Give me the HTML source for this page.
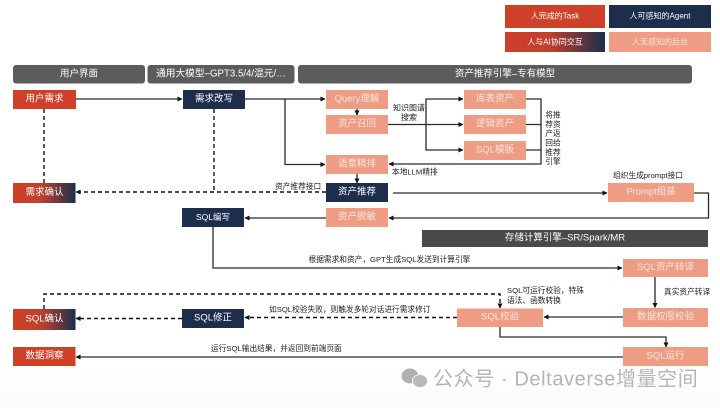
<!DOCTYPE html>
<html><head><meta charset="utf-8"><style>
html,body{margin:0;padding:0;background:#fff}
svg{display:block;filter:blur(.35px)}
text{font-family:"Liberation Sans","Noto Sans CJK SC",sans-serif}
.b{font-size:9.5px;fill:#fff;text-anchor:middle;dominant-baseline:central}
.s{fill:#fbe6dc}
.l{font-size:7.7px;fill:#222;dominant-baseline:central}
.c{text-anchor:middle}
.a{stroke:#2a2a2a;stroke-width:1.3;fill:none}
.d{stroke:#111;stroke-width:1.4;fill:none;stroke-dasharray:4 3}
</style></head><body>
<svg width="720" height="408" viewBox="0 0 720 408" xmlns="http://www.w3.org/2000/svg">
<defs>
<linearGradient id="g"><stop offset="0" stop-color="#cf4028"/><stop offset=".45" stop-color="#c0402c"/><stop offset="1" stop-color="#1c2e4c"/></linearGradient>
<linearGradient id="bg" x1="0" y1="0" x2="0" y2="1"><stop offset=".9" stop-color="#fff"/><stop offset="1" stop-color="#fbfbfb"/></linearGradient>
<marker id="m" markerWidth="6" markerHeight="6" refX="4.5" refY="2.5" orient="auto" markerUnits="userSpaceOnUse"><path d="M0 0L5 2.5L0 5z" fill="#111"/></marker>
</defs>
<rect width="720" height="408" fill="url(#bg)"/>
<!-- legend -->
<rect x="505" y="5" width="100" height="23" fill="#cf4028"/>
<rect x="609" y="5" width="102" height="23" fill="#1c2e4c"/>
<rect x="505" y="32" width="100" height="20" fill="url(#g)"/>
<rect x="609" y="32" width="102" height="20" fill="#ee9c84"/>
<text class="b" style="font-size:8px" x="555" y="16">人完成的Task</text>
<text class="b" style="font-size:8px" x="660" y="16">人可感知的Agent</text>
<text class="b" style="font-size:8px" x="555" y="42">人与AI协同交互</text>
<text class="b s" style="font-size:8px" x="660" y="42">人无感知的后台</text>
<!-- headers -->
<rect x="13" y="65" width="132" height="18.5" rx="3" fill="#5c5c5c"/>
<rect x="147.5" y="65" width="147" height="18.5" rx="3" fill="#5c5c5c"/>
<rect x="298" y="65" width="394" height="18.5" rx="3" fill="#5c5c5c"/>
<text class="b" x="79" y="74">用户界面</text>
<text class="b" style="font-size:9.7px" x="221" y="74">通用大模型–GPT3.5/4/混元/…</text>
<text class="b" x="505" y="74">资产推荐引擎–专有模型</text>
<rect x="422" y="230" width="286" height="17" fill="#4a4a4a"/>
<text class="b" x="565" y="238">存储计算引擎–SR/Spark/MR</text>
<!-- connectors -->
<path class="a" d="M76 99H182" marker-end="url(#m)"/>
<path class="a" d="M245 99H325" marker-end="url(#m)"/>
<path class="a" d="M285 99V164.500H325" marker-end="url(#m)"/>
<path class="a" d="M357 109V115" marker-end="url(#m)"/>
<path class="a" d="M357 174V183" marker-end="url(#m)"/>
<path class="a" d="M388 124.500H463" marker-end="url(#m)"/>
<path class="a" d="M426 124.500V99H463" marker-end="url(#m)"/>
<path class="a" d="M426 124.500V150H463" marker-end="url(#m)"/>
<path class="a" d="M526 99H541V164H389" marker-end="url(#m)"/>
<path class="a" d="M526 124.500H541M526 150H541"/>
<path class="a" d="M393 193H607" marker-end="url(#m)"/>
<path class="a" d="M694 193H708.500V218H389" marker-end="url(#m)"/>
<path class="a" d="M326 218H245" marker-end="url(#m)"/>
<path class="a" d="M213 227V268H622" marker-end="url(#m)"/>
<path class="a" d="M655 277V307.500" marker-end="url(#m)"/>
<path class="a" d="M623 317H544" marker-end="url(#m)"/>
<path class="a" d="M500 327V337H666V347" marker-end="url(#m)"/>
<path class="a" d="M623 357H76" marker-end="url(#m)"/>
<path class="d" d="M44 109V183"/>
<path class="d" d="M214 109V192"/>
<path class="d" d="M326 192H76" marker-end="url(#m)"/>
<path class="d" d="M44 309V294H500V308" marker-end="url(#m)"/>
<path class="d" d="M457 317.500H245" marker-end="url(#m)"/>
<path class="d" d="M182 318.500H76" marker-end="url(#m)"/>
<!-- nodes -->
<rect x="13" y="90" width="63" height="19" fill="#cf4028"/><text class="b" x="44.500" y="99">用户需求</text>
<rect x="183" y="90" width="62" height="19" fill="#1c2e4c"/><text class="b" x="214" y="99">需求改写</text>
<rect x="326" y="90" width="62" height="19" fill="#ee9c84"/><text class="b s" x="357" y="99">Query理解</text>
<rect x="326" y="115" width="62" height="19" fill="#ee9c84"/><text class="b s" x="357" y="124">资产召回</text>
<rect x="326" y="155" width="62" height="19" fill="#ee9c84"/><text class="b s" x="357" y="164">语意精排</text>
<rect x="326" y="183" width="62" height="19" fill="#1c2e4c"/><text class="b" x="357" y="192">资产推荐</text>
<rect x="326" y="208" width="62" height="19" fill="#ee9c84"/><text class="b s" x="357" y="217">资产脱敏</text>
<rect x="464" y="90" width="62" height="19" fill="#ee9c84"/><text class="b s" x="495" y="99">库表资产</text>
<rect x="464" y="115" width="62" height="19" fill="#ee9c84"/><text class="b s" x="495" y="124">逻辑资产</text>
<rect x="464" y="141" width="62" height="19" fill="#ee9c84"/><text class="b s" x="495" y="150">SQL模版</text>
<rect x="608" y="183" width="86" height="19" fill="#ee9c84"/><text class="b s" x="651" y="192">Prompt组装</text>
<rect x="13" y="183" width="62.500" height="20" fill="url(#g)"/><text class="b" x="44.500" y="192.500">需求确认</text>
<rect x="182" y="208" width="62" height="19" fill="#1c2e4c"/><text class="b" style="font-size:8.500px" x="213" y="217">SQL编写</text>
<rect x="623" y="259" width="85" height="18" fill="#ee9c84"/><text class="b s" x="665.500" y="267.500">SQL资产转译</text>
<rect x="623" y="308" width="85" height="19" fill="#ee9c84"/><text class="b s" x="665.500" y="317">数据权限校验</text>
<rect x="457" y="308.500" width="86" height="18.500" fill="#ee9c84"/><text class="b s" x="500" y="317">SQL校验</text>
<rect x="623" y="347" width="85" height="19" fill="#ee9c84"/><text class="b s" x="665.500" y="356">SQL运行</text>
<rect x="13" y="309" width="62.500" height="21" fill="url(#g)"/><text class="b" x="44.500" y="319">SQL确认</text>
<rect x="182" y="309" width="62" height="19" fill="#1c2e4c"/><text class="b" x="213" y="318">SQL修正</text>
<rect x="13" y="347" width="62.500" height="19" fill="#cf4028"/><text class="b" x="44.500" y="356">数据洞察</text>
<!-- labels -->
<text class="l c" style="font-size:8px" x="409" y="108">知识图谱</text>
<text class="l c" style="font-size:8px" x="409" y="117.500">搜索</text>
<text class="l c" x="553" y="115">将推</text>
<text class="l c" x="553" y="124.500">荐资</text>
<text class="l c" x="553" y="133.500">产返</text>
<text class="l c" x="553" y="143">回给</text>
<text class="l c" x="553" y="152.500">推荐</text>
<text class="l c" x="553" y="161.500">引擎</text>
<text class="l" x="392" y="172">本地LLM精排</text>
<text class="l" x="275" y="186.500">资产推荐接口</text>
<text class="l" x="613" y="175.500">组织生成prompt接口</text>
<text class="l" x="308.500" y="259.500">根据需求和资产，GPT生成SQL发送到计算引擎</text>
<text class="l" x="507" y="290.500">SQL可运行校验，特殊</text>
<text class="l" x="507" y="300.500">语法、函数转换</text>
<text class="l" x="664" y="292">真实资产转译</text>
<text class="l" x="269" y="309.500">如SQL校验失败，则触发多轮对话进行需求修订</text>
<text class="l" x="211" y="348.500">运行SQL输出结果，并返回到前端页面</text>
<!-- watermark -->
<ellipse cx="410" cy="376" rx="8.500" ry="7.500" fill="#b0b0b0"/>
<ellipse cx="420" cy="381" rx="7.500" ry="6.500" fill="#b8b8b8" stroke="#f4f4f4" stroke-width="1"/>
<text x="433" y="385.500" style="font-size:20px;letter-spacing:.6px" fill="#b4b4b4">公众号 · Deltaverse增量空间</text>
</svg>
</body></html>
